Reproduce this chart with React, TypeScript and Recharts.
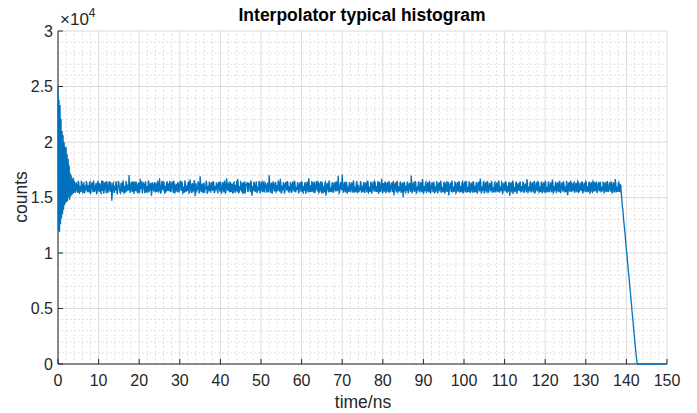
import { LineChart, Line, XAxis, YAxis, CartesianGrid, ReferenceLine } from 'recharts';

// histogram bin width in ns
const BIN_NS = 0.125;

// 0 .. 4 ns, ringing after the start
const transientCounts = [
  25000, 12000, 23800, 11900, 23300, 12600, 22100, 13100, 21000, 13500,
  20600, 13900, 20000, 14300, 19600, 14500, 19500, 14600, 18900, 14700,
  18500, 15000, 17900, 14800, 17200, 15100, 17000, 15200, 16700, 15300,
  16800, 15400, 16500,
];

// 4.125 .. 138.5 ns, flat part
const plateauCounts = [
  16260, 15420, 15540, 16380, 16190, 15650, 15420, 16510, 16330, 15330, 16020, 15890, 15470, 16440, 16390, 15560, 15380, 16220, 16300, 15380,
  15510, 16090, 15640, 16480, 16250, 15470, 16110, 15780, 15460, 16350, 16420, 15310, 15550, 16170, 16370, 15920, 15480, 16530, 16150, 15490,
  15690, 16010, 16300, 15360, 15410, 16420, 16450, 15700, 15520, 16280, 16110, 15450, 15380, 16550, 16240, 15600, 16480, 15340, 15570, 16310,
  16360, 15850, 15390, 16460, 16270, 15400, 15620, 16140, 16490, 15730, 15500, 16390, 16080, 14720, 15460, 16250, 16330, 15520, 15400, 16080,
  15620, 16470, 16240, 15390, 15360, 15960, 16500, 16330, 15820, 15480, 15410, 16200, 16330, 15620, 15470, 16540, 16280, 15350, 15700, 16050,
  15430, 16410, 16380, 15540, 16170, 15810, 15640, 17020, 16250, 15430, 15540, 16290, 16410, 15680, 15480, 16460, 16100, 15320, 16420, 15990,
  15570, 16360, 16290, 15510, 15450, 16120, 16340, 15400, 15500, 16680, 16130, 15760, 16470, 15370, 15620, 16300, 16210, 15900, 15380, 16450,
  16300, 15460, 15560, 16030, 15440, 16520, 16400, 15590, 15650, 16190, 16320, 15150, 15490, 16370, 16190, 15720, 15540, 16260, 16380, 15440,
  16280, 15980, 15490, 16500, 16360, 15530, 15600, 16740, 16200, 15410, 15430, 16150, 16510, 15830, 15650, 16420, 16380, 15340, 15520, 16060,
  15460, 16380, 16410, 15580, 16290, 15750, 15560, 16490, 16340, 15480, 15620, 16240, 16440, 15920, 15410, 16530, 16200, 15360, 15560, 16110,
  16230, 15640, 15480, 16340, 16310, 15450, 15660, 16200, 16520, 15870, 15590, 16460, 16240, 15390, 15460, 15990, 15430, 16550, 16250, 15500,
  15620, 16080, 15580, 16310, 16370, 15420, 15490, 16630, 16310, 15700, 15410, 16180, 16280, 15560, 15630, 16400, 16560, 15120, 15500, 16270,
  15450, 15810, 15700, 16450, 16280, 15370, 15520, 16920, 16390, 15620, 15480, 16130, 16260, 15480, 15550, 16350, 15410, 15940, 15720, 16520,
  16340, 15330, 15490, 16060, 15570, 16410, 16300, 15590, 15440, 16220, 16390, 15750, 15600, 16480, 16240, 15400, 15520, 16020, 15670, 16300,
  16280, 15510, 15440, 16170, 16410, 15880, 15530, 16440, 16270, 15350, 15570, 16080, 16380, 15660, 15460, 16530, 16220, 15430, 15500, 16720,
  16420, 15780, 15590, 16250, 16330, 15470, 15570, 16390, 15510, 15900, 16260, 15360, 15470, 16320, 16370, 15610, 15420, 16150, 15610, 16500,
  15480, 16650, 16310, 15440, 15480, 16010, 15620, 16380, 16290, 15560, 15470, 16240, 16380, 15340, 15560, 16470, 15380, 15820, 16260, 16110,
  16390, 15490, 15600, 16360, 16210, 15950, 15480, 16540, 16280, 15170, 15440, 16060, 15560, 16420, 16300, 15620, 15490, 16280, 16450, 15400,
  15560, 15980, 15620, 16490, 16380, 15380, 15530, 16230, 16440, 15700, 15480, 16400, 16310, 15520, 15510, 16330, 16240, 15860, 15460, 16050,
  16350, 15460, 15610, 17010, 16490, 15590, 15430, 16190, 16340, 15340, 15630, 16450, 16270, 15760, 15540, 16280, 16390, 15500, 15580, 16110,
  15600, 16520, 16360, 15620, 15570, 16690, 16320, 15430, 15480, 16070, 15650, 16370, 16260, 15350, 15480, 16200, 16410, 15880, 15610, 16480,
  16270, 15540, 15490, 16010, 15550, 16330, 16270, 15400, 15520, 16260, 16440, 15690, 15620, 16510, 16290, 15470, 15580, 15960, 15680, 16390,
  16220, 15360, 15560, 16150, 16390, 15800, 15510, 16460, 16300, 15520, 15440, 16040, 15600, 16300, 16320, 15330, 15560, 16220, 16420, 15650,
  15460, 16730, 16350, 15480, 15590, 16090, 15500, 16410, 16380, 15570, 15520, 16290, 16420, 15390, 15660, 16130, 16470, 15850, 15550, 16500,
  16280, 15440, 15510, 16260, 16330, 15610, 15520, 16450, 16260, 15370, 15580, 16020, 15450, 16350, 16410, 15160, 15570, 16180, 16310, 15780,
  15460, 16530, 16390, 15500, 15620, 15920, 15490, 16310, 16330, 15420, 15540, 16200, 16360, 15690, 15550, 16470, 16230, 15560, 15670, 16960,
  16280, 15410, 15500, 16080, 16390, 15830, 15660, 17060, 16270, 15480, 15510, 16280, 16400, 15590, 15460, 16440, 16230, 15350, 15610, 16000,
  15500, 16390, 16290, 15620, 15460, 16170, 16350, 15740, 15430, 16540, 16300, 15450, 15610, 15990, 15480, 16360, 16460, 15380, 15590, 16140,
  15470, 15860, 15600, 16480, 16290, 15510, 15560, 16050, 15480, 16330, 16340, 15400, 15520, 16240, 16310, 15680, 15450, 16520, 16390, 15460,
  15550, 15970, 15510, 16290, 16410, 15340, 15580, 16120, 16440, 15800, 15520, 16450, 16360, 15590, 15570, 16030, 15480, 16400, 16370, 15310,
  16420, 16190, 15500, 15720, 16310, 16680, 15450, 15440, 16310, 15950, 15520, 16360, 16370, 15390, 15540, 16230, 16380, 15620, 15470, 16490,
  16240, 15510, 15560, 16070, 16350, 15870, 15490, 16380, 16420, 15180, 15560, 16160, 16370, 15750, 15470, 16510, 16320, 15480, 15560, 16010,
  15560, 16340, 16440, 15420, 15520, 16200, 16330, 15020, 15600, 16420, 16300, 15560, 15470, 16060, 15580, 16310, 16440, 15370, 15560, 16150,
  16310, 15800, 15490, 16970, 16350, 15460, 15530, 16260, 16330, 15640, 15520, 16470, 16330, 15400, 15460, 15980, 15610, 16370, 16410, 15530,
  15500, 16120, 16380, 15690, 15480, 16660, 16340, 15410, 15470, 16030, 15560, 16300, 16390, 15480, 15530, 16210, 16370, 15610, 15480, 16500,
  16260, 15350, 15600, 16090, 16360, 15840, 15480, 16410, 16290, 15440, 15480, 16010, 15550, 16460, 16300, 15380, 15490, 16180, 16380, 15660,
  15580, 16530, 16260, 15500, 15550, 15930, 15480, 16350, 16360, 15420, 15470, 16250, 16340, 15570, 15560, 16440, 16310, 15190, 15650, 16060,
  16350, 15790, 15480, 16520, 16290, 15460, 15640, 15990, 15520, 16380, 16330, 15400, 15470, 16130, 16380, 15620, 15510, 16480, 16320, 15530,
  15590, 16040, 15480, 16330, 16410, 15370, 15490, 16210, 16420, 15660, 15460, 16500, 16330, 15450, 15610, 15960, 15500, 16400, 16370, 15410,
  15530, 16170, 16340, 15580, 15450, 16470, 16360, 15500, 15540, 16050, 15480, 16290, 16390, 15360, 15500, 16120, 16440, 15740, 15550, 16710,
  16380, 15430, 15480, 15990, 15600, 16380, 16430, 15370, 15500, 16240, 16370, 15610, 15530, 16490, 16370, 15480, 15480, 16080, 16290, 15820,
  15540, 16420, 16360, 15420, 15570, 15950, 15480, 16330, 16380, 15520, 15520, 16190, 16350, 15640, 15490, 16540, 16370, 15440, 15640, 16000,
  15560, 16390, 16320, 15380, 15460, 16140, 16350, 15700, 15560, 16470, 16320, 15490, 15470, 16060, 15520, 16280, 16410, 15150, 15520, 16220,
  16370, 15560, 15480, 16520, 16340, 15500, 15590, 15930, 15520, 16360, 16380, 15340, 15520, 16170, 16290, 15680, 15580, 16440, 16330, 15460,
  15580, 16030, 15550, 16380, 16350, 15410, 15560, 16100, 16270, 15760, 15480, 16650, 16350, 15450, 15480, 15980, 15570, 16310, 16380, 15520,
  15520, 16230, 16350, 15610, 15540, 16490, 16380, 15430, 15490, 16080, 16400, 15730, 15560, 16420, 16350, 15480, 15570, 16000, 15500, 16340,
  16380, 15380, 15480, 16190, 16370, 15570, 15510, 16500, 16380, 15440, 15600, 15950, 15500, 16390, 16400, 15510, 15540, 16120, 16360, 15700,
  15470, 16620, 16380, 15420, 15490, 16040, 15560, 16300, 16410, 15470, 15530, 16250, 16350, 15640, 15500, 16450, 16420, 15390, 15560, 16090,
  16360, 15780, 15540, 16370, 16290, 15460, 15600, 16010, 15480, 16430, 16380, 15200, 15470, 16160, 16380, 15650, 15520, 16500, 16400, 15500,
  16280, 15970, 15560, 16320, 16370, 15430, 15560, 16200, 16330, 15590, 15480, 16470, 16400, 15480, 15530, 16050, 16350, 15740, 15580, 16400,
  16390, 15360, 15560, 16130, 16350, 15680, 15490, 16520, 16330, 15470, 15600, 16020, 15520, 16350, 16360, 15420, 15480, 16240, 16380, 15570,
  15500, 16460, 16390, 15520, 16410, 15920, 15560, 16310, 16360, 15400, 15540, 16100, 16380, 15720, 15560, 16430, 16320, 15460, 15640, 15990,
  15570, 16380, 16360, 15440, 15520, 16220, 16380, 15610, 15500, 16490, 16370, 15500, 15610, 16060, 16370, 15800, 15530, 16410, 16360, 15410,
  15460, 16170, 16360, 15600, 15480, 16660, 16370, 15520, 15560, 15980, 15490, 16330, 16380, 15560, 15540, 16150,
];

// 138.625 .. 142.75 ns, falling edge
const fallCounts = [
  16100, 15300, 14900, 14200, 13900, 13300, 12800, 12300, 11900, 11300,
  10800, 10300, 9900, 9300, 8900, 8300, 7900, 7400, 6800, 6400,
  5800, 5400, 4800, 4300, 3900, 3300, 2800, 2400, 1800, 1400,
  900, 500, 100, 0,
];

// 142.875 .. 150 ns, empty bins
const tailCounts = [
  0, 0, 0, 0, 0, 0, 0, 0, 0, 0, 0, 0, 0, 0, 0, 0, 0, 0, 0, 0,
  0, 0, 0, 0, 0, 0, 0, 0, 0, 0, 0, 0, 0, 0, 0, 0, 0, 0, 0, 0,
  0, 0, 0, 0, 0, 0, 0, 0, 0, 0, 0, 0, 0, 0, 0, 0, 0, 0,
];

const xTicks = [0, 10, 20, 30, 40, 50, 60, 70, 80, 90, 100, 110, 120, 130, 140, 150];
const yTicks = [0, 5000, 10000, 15000, 20000, 25000, 30000];
const xMinor = [
  2, 4, 6, 8, 12, 14, 16, 18, 22, 24, 26, 28, 32, 34, 36, 38, 42, 44, 46, 48,
  52, 54, 56, 58, 62, 64, 66, 68, 72, 74, 76, 78, 82, 84, 86, 88, 92, 94, 96, 98,
  102, 104, 106, 108, 112, 114, 116, 118, 122, 124, 126, 128, 132, 134, 136, 138,
  142, 144, 146, 148,
];
const yMinor = [
  1000, 2000, 3000, 4000, 6000, 7000, 8000, 9000, 11000, 12000, 13000, 14000,
  16000, 17000, 18000, 19000, 21000, 22000, 23000, 24000, 26000, 27000, 28000, 29000,
];

const allCounts = [...transientCounts, ...plateauCounts, ...fallCounts, ...tailCounts];
const data = allCounts.map((counts, i) => ({ t: i * BIN_NS, counts }));

const FONT = '"Liberation Sans", Arial, Helvetica, sans-serif';
const AXIS = '#262626';
const tickStyle = { fill: AXIS, fontSize: 16, fontFamily: FONT };

export default function App() {
  return (
    <div style={{ position: 'absolute', left: 0, top: 0, width: 697, height: 413, background: '#fff' }}>
      <LineChart width={697} height={413} data={data} margin={{ top: 31, right: 30, bottom: 0, left: 0 }}>
        <CartesianGrid stroke="#dcdcdc" />
        {xMinor.map((v) => (
          <ReferenceLine key={'x' + v} x={v} stroke="#e2e2e2" strokeDasharray="2 2" zIndex={-90} />
        ))}
        {yMinor.map((v) => (
          <ReferenceLine key={'y' + v} y={v} stroke="#e2e2e2" strokeDasharray="2 2" zIndex={-90} />
        ))}
        <XAxis
          dataKey="t"
          type="number"
          domain={[0, 150]}
          ticks={xTicks}
          height={49}
          stroke={AXIS}
          tickSize={-5}
          tickMargin={16}
          tick={tickStyle}
          interval={0}
        />
        <XAxis
          xAxisId="top"
          orientation="top"
          type="number"
          domain={[0, 150]}
          ticks={xTicks}
          height={0}
          stroke={AXIS}
          tickSize={-5}
          tick={false}
        />
        <YAxis
          type="number"
          domain={[0, 30000]}
          ticks={yTicks}
          width={58}
          stroke={AXIS}
          tickSize={-5}
          tickMargin={10}
          tick={tickStyle}
          tickFormatter={(v: number) => String(v / 10000)}
          interval={0}
        />
        <YAxis
          yAxisId="right"
          orientation="right"
          type="number"
          domain={[0, 30000]}
          ticks={yTicks}
          width={0}
          stroke={AXIS}
          tickSize={-5}
          tick={false}
        />
        <Line
          type="linear"
          dataKey="counts"
          stroke="#0072BD"
          strokeWidth={1.3}
          strokeLinejoin="miter"
          dot={false}
          isAnimationActive={false}
          zIndex={600}
        />
      </LineChart>
      <svg width={697} height={413} style={{ position: 'absolute', left: 0, top: 0, pointerEvents: 'none' }}>
        <text x={362} y={21} textAnchor="middle" fontFamily={FONT} fontSize={17.5} fontWeight="bold" fill="#000">
          Interpolator typical histogram
        </text>
        <text x={60} y={25} fontFamily={FONT} fontSize={17} fill={AXIS}>
          ×10
          <tspan dy={-8} fontSize={12}>4</tspan>
        </text>
        <text x={363} y={408} textAnchor="middle" fontFamily={FONT} fontSize={17.5} fill={AXIS}>
          time/ns
        </text>
        <text x={27} y={197} textAnchor="middle" fontFamily={FONT} fontSize={17.5} fill={AXIS} transform="rotate(-90 27 197)">
          counts
        </text>
      </svg>
    </div>
  );
}
